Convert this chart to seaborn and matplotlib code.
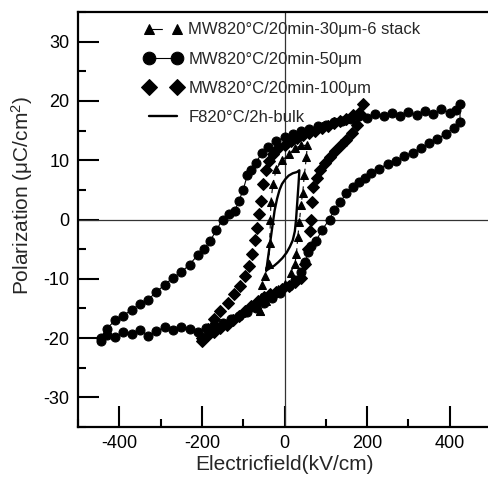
import numpy as np
import pandas as pd
import matplotlib
matplotlib.use('Agg')
import matplotlib.pyplot as plt
from matplotlib.ticker import MultipleLocator
import seaborn as sns

# P-E loops (E in kV/cm, P in uC/cm2)
# 50 um, large loop: lower branch then upper branch
E_50 = [-445, -430, -410, -390, -370, -350, -330, -310, -290, -270, -250, -230,
        -210, -190, -170, -150, -130, -110, -90, -70, -50, -30, -10, 10, 25, 40,
        50, 58, 65, 77, 90, 109, 120, 135, 150, 165, 180, 195, 210, 230, 250,
        270, 290, 310, 330, 350, 370, 390, 410, 425,
        425, 415, 400, 380, 360, 340, 320, 300, 280, 260, 240, 220, 200, 180,
        160, 140, 120, 100, 80, 60, 40, 20, 0, -20, -40, -55, -70, -80, -90,
        -100, -110, -120, -135, -150, -165, -180, -195, -210, -230, -250, -270,
        -290, -310, -330, -350, -370, -390, -410, -430, -445]
P_50 = [-20.5, -19.5, -19.8, -19.0, -19.3, -18.6, -19.6, -18.8, -18.2, -18.7,
        -18.1, -18.5, -18.9, -18.3, -17.8, -17.5, -16.8, -16.3, -15.6, -14.9,
        -14.0, -13.3, -12.4, -11.3, -10.2, -8.8, -7.2, -5.5, -4.5, -3.6, -1.8,
        0.0, 1.6, 3.0, 4.4, 5.4, 6.4, 7.0, 7.8, 8.6, 9.4, 9.8, 10.7, 11.3, 12.0,
        12.9, 13.5, 14.5, 15.4, 16.5,
        19.5, 18.5, 18.0, 18.6, 17.8, 18.3, 17.6, 18.2, 17.5, 18.0, 17.4, 17.8,
        17.2, 17.4, 16.9, 16.6, 16.4, 16.0, 15.7, 15.3, 14.9, 14.4, 13.9, 13.2,
        12.3, 11.2, 9.5, 8.3, 7.5, 5.0, 3.2, 1.5, 1.0, 0.0, -1.8, -3.6, -5.0,
        -6.0, -7.6, -8.9, -9.8, -11.0, -12.2, -13.5, -14.3, -15.2, -16.2,
        -17.0, -18.4, -20.0]

# 100 um, middle loop
E_100 = [-200, -185, -170, -155, -140, -125, -110, -95, -80, -65, -50, -35,
         -20, -5, 10, 25, 40, 50, 58, 62, 64, 66, 70, 78, 85, 97, 109, 122,
         136, 150, 163, 175, 184, 190,
         180, 165, 150, 135, 120, 105, 90, 75, 60, 45, 30, 15, 0, -15, -28,
         -38, -45, -52, -58, -62, -66, -72, -78, -85, -95, -108, -122, -138,
         -155, -170, -185, -200]
P_100 = [-20.5, -19.5, -19.0, -18.3, -17.8, -17.0, -16.2, -15.5, -14.6, -13.8,
         -13.0, -12.6, -12.2, -11.8, -11.3, -10.6, -9.8, -7.5, -5.0, -2.0, 0.0,
         3.0, 5.5, 7.0, 8.3, 9.5, 10.5, 11.6, 12.5, 13.4, 14.6, 16.0, 17.8, 19.5,
         18.0, 17.6, 17.0, 16.6, 16.2, 15.8, 15.5, 15.0, 14.6, 14.2, 13.7, 13.2,
         12.6, 12.0, 11.0, 9.8, 8.3, 6.0, 3.2, 1.0, -1.5, -3.5, -5.8, -7.8, -9.5,
         -11.2, -12.6, -14.0, -15.5, -16.8, -18.5, -20.0]

# 30 um 6-stack, slim loop
E_30 = [-60, -45, -30, -15, 0, 15, 25, 29, 32, 36, 40, 44, 48, 53, 55,
        40, 25, 10, -5, -20, -28, -33, -34, -36, -38, -48, -55, -57, -60]
P_30 = [-15.5, -13.8, -12.8, -11.8, -10.8, -9.0, -7.5, -5.8, -3.0, -0.5, 2.5,
        4.4, 7.5, 10.5, 12.5,
        12.5, 12.0, 11.0, 10.0, 8.5, 6.0, 3.0, 0.0, -4.0, -7.5, -9.5, -11.0,
        -13.0, -15.5]

# bulk, small loop
E_bulk = [-44, -35, -25, -15, -5, 5, 13, 20, 25, 28, 30, 32, 34, 36,
          30, 20, 10, 2, -6, -12, -18, -24, -28, -32, -36, -40, -44]
P_bulk = [-8.6, -8.2, -7.8, -7.2, -6.5, -5.6, -4.6, -3.5, -2.0, 0.0, 2.0, 4.0,
          6.0, 8.3,
          8.0, 7.8, 7.4, 6.8, 6.0, 5.0, 3.5, 1.5, -0.5, -2.5, -4.5, -6.5, -8.6]

labels = ['MW820°C/20min-30μm-6 stack', 'MW820°C/20min-50μm',
          'MW820°C/20min-100μm', 'F820°C/2h-bulk']

sns.set_style('ticks')
plt.rcParams['font.family'] = ['Liberation Sans', 'DejaVu Sans']
plt.rcParams['mathtext.default'] = 'regular'
plt.rcParams['axes.unicode_minus'] = False

fig = plt.figure(figsize=(4.88, 4.78), dpi=100)
ax = fig.add_axes([78/488, 1 - 427/478, 413/488, 415/478])

ax.axhline(0, color='0.2', lw=0.9, zorder=1)
ax.axvline(0, color='0.2', lw=0.9, zorder=1)

df30 = pd.DataFrame({'E': E_30, 'P': P_30})
df50 = pd.DataFrame({'E': E_50, 'P': P_50})
df100 = pd.DataFrame({'E': E_100, 'P': P_100})
dfb = pd.DataFrame({'E': E_bulk, 'P': P_bulk})

sns.lineplot(data=df30, x='E', y='P', sort=False, estimator=None, ax=ax,
             color='k', lw=0.8, marker='^', markersize=5.5,
             markeredgecolor='k', label=labels[0])
sns.lineplot(data=df50, x='E', y='P', sort=False, estimator=None, ax=ax,
             color='k', lw=0.8, marker='o', markersize=6.5,
             markeredgecolor='k', label=labels[1])
sns.lineplot(data=df100, x='E', y='P', sort=False, estimator=None, ax=ax,
             color='k', lw=0, linestyle='None', marker='D', markersize=6,
             markeredgecolor='k', label=labels[2])
sns.lineplot(data=dfb, x='E', y='P', sort=False, estimator=None, ax=ax,
             color='k', lw=1.7, label=labels[3])

ax.set_xlim(-500, 500)
ax.set_ylim(-35, 35)
ax.xaxis.set_major_locator(MultipleLocator(200))
ax.xaxis.set_minor_locator(MultipleLocator(100))
ax.yaxis.set_major_locator(MultipleLocator(10))
ax.yaxis.set_minor_locator(MultipleLocator(5))
ax.tick_params(which='both', direction='in', width=1.5, top=False, right=False,
               labelsize=13, colors='k')
ax.tick_params(which='major', length=15, pad=6)
ax.tick_params(which='minor', length=6)
for s in ['top', 'left', 'bottom', 'right']:
    ax.spines[s].set_linewidth(1.6)
    ax.spines[s].set_color('k')

ax.set_xlabel('Electricfield(kV/cm)', fontsize=15, labelpad=2)
ax.set_ylabel('Polarization (μC/cm$^{2}$)', fontsize=15)
ax.yaxis.set_label_coords(-0.103, 0.559)

h, l = ax.get_legend_handles_labels()
leg = ax.legend(h, l, loc='upper left', bbox_to_anchor=(0.16, 0.975),
                frameon=False, numpoints=2, fontsize=12, handlelength=2.3,
                handletextpad=0.35, labelspacing=0.85, borderpad=0,
                borderaxespad=0, markerscale=1.4)
# main plot line of the stack series dashed, legend handle: one dash after first marker
ax.lines[2].set_dashes([4, 4])
leg.get_lines()[0].set_dashes([12, 40])

fig.savefig('out.png', dpi=100)
